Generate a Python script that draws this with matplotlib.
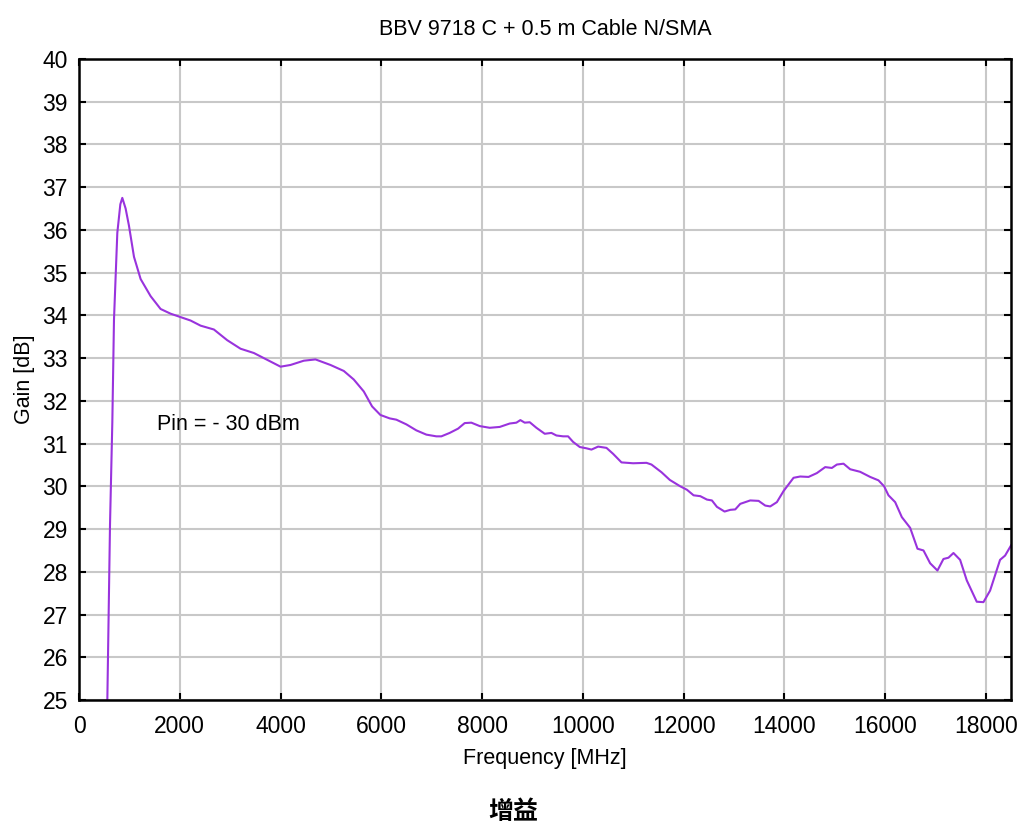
import numpy as np
import matplotlib
matplotlib.use("Agg")
import matplotlib.pyplot as plt

# Gain curve (frequency in MHz, gain in dB)
freq_mhz = [548, 562, 615, 661, 694, 760, 820, 859, 925, 991, 1091, 1223, 1421,
            1619, 1818, 2016, 2214, 2413, 2677, 2941, 3206, 3470, 3735, 4000,
            4197, 4462, 4693, 4991, 5255, 5453, 5652, 5817, 5982, 6166, 6298,
            6497, 6695, 6894, 7092, 7192, 7357, 7523, 7655, 7787, 7953, 8151,
            8350, 8549, 8681, 8760, 8846, 8946, 9078, 9244, 9376, 9475, 9608,
            9707, 9806, 9939, 10071, 10171, 10303, 10469, 10601, 10767, 10998,
            11263, 11362, 11561, 11726, 11934, 12066, 12198, 12331, 12463,
            12562, 12661, 12813, 12926, 13025, 13124, 13322, 13488, 13620,
            13719, 13851, 13984, 14182, 14314, 14479, 14645, 14810, 14942,
            15042, 15174, 15306, 15504, 15703, 15868, 15980, 16066, 16199,
            16331, 16496, 16642, 16761, 16893, 17038, 17157, 17257, 17356,
            17488, 17620, 17818, 17951, 18083, 18281, 18381, 18500]
gain_db = [24.0, 25.0, 29.1, 31.5, 33.9, 35.93, 36.6, 36.75, 36.5, 36.1, 35.37,
           34.85, 34.45, 34.15, 34.04, 33.96, 33.88, 33.76, 33.67, 33.42, 33.22,
           33.12, 32.96, 32.8, 32.84, 32.94, 32.97, 32.84, 32.7, 32.5, 32.22,
           31.87, 31.67, 31.59, 31.56, 31.45, 31.31, 31.21, 31.17, 31.17, 31.25,
           31.35, 31.48, 31.49, 31.41, 31.37, 31.39, 31.47, 31.49, 31.55, 31.49,
           31.5, 31.37, 31.23, 31.25, 31.19, 31.17, 31.17, 31.04, 30.92, 30.89,
           30.86, 30.93, 30.9, 30.76, 30.56, 30.54, 30.55, 30.51, 30.33, 30.15,
           30.0, 29.92, 29.79, 29.77, 29.69, 29.67, 29.52, 29.41, 29.45, 29.46,
           29.59, 29.67, 29.66, 29.55, 29.53, 29.63, 29.89, 30.2, 30.23, 30.22,
           30.31, 30.45, 30.43, 30.51, 30.53, 30.4, 30.34, 30.22, 30.14, 30.0,
           29.79, 29.63, 29.28, 29.03, 28.54, 28.5, 28.2, 28.03, 28.3, 28.33,
           28.44, 28.28, 27.8, 27.3, 27.29, 27.56, 28.28, 28.38, 28.62]

x_ticks = list(range(0, 18001, 2000))
y_ticks = list(range(25, 41))

plt.rcParams["font.family"] = ["Liberation Sans", "DejaVu Sans"]

fig = plt.figure(figsize=(10.17, 8.25), dpi=100)
ax = fig.add_axes([0.0777, 0.1515, 0.9165, 0.777])

ax.plot(freq_mhz, gain_db, color="#9933dd", linewidth=1.5)

ax.set_xlim(0, 18500)
ax.set_ylim(25, 40)
ax.set_xticks(x_ticks)
ax.set_yticks(y_ticks)
ax.grid(True, color="#c8c8c8", linewidth=1.5)
ax.set_axisbelow(True)
ax.tick_params(direction="in", length=5, width=1.5, labelsize=16.5,
               top=True, right=True)
ax.tick_params(axis="x", pad=11)
ax.tick_params(axis="y", pad=8)
for s in ax.spines.values():
    s.set_linewidth(1.8)

ax.set_xlabel("Frequency [MHz]", fontsize=15.5, labelpad=7)
ax.set_ylabel("Gain [dB]", fontsize=15.5, labelpad=5)
ax.set_title("BBV 9718 C + 0.5 m Cable N/SMA", fontsize=15.5, pad=17)

ax.text(1550, 31.45, "Pin = - 30 dBm", fontsize=15.5, va="center", ha="left")

fig.text(0.505, 0.0158, "增益", fontsize=18, fontweight="bold",
         family=["Noto Sans CJK SC", "DejaVu Sans"], ha="center", va="center")

fig.savefig("out.png", dpi=100)
